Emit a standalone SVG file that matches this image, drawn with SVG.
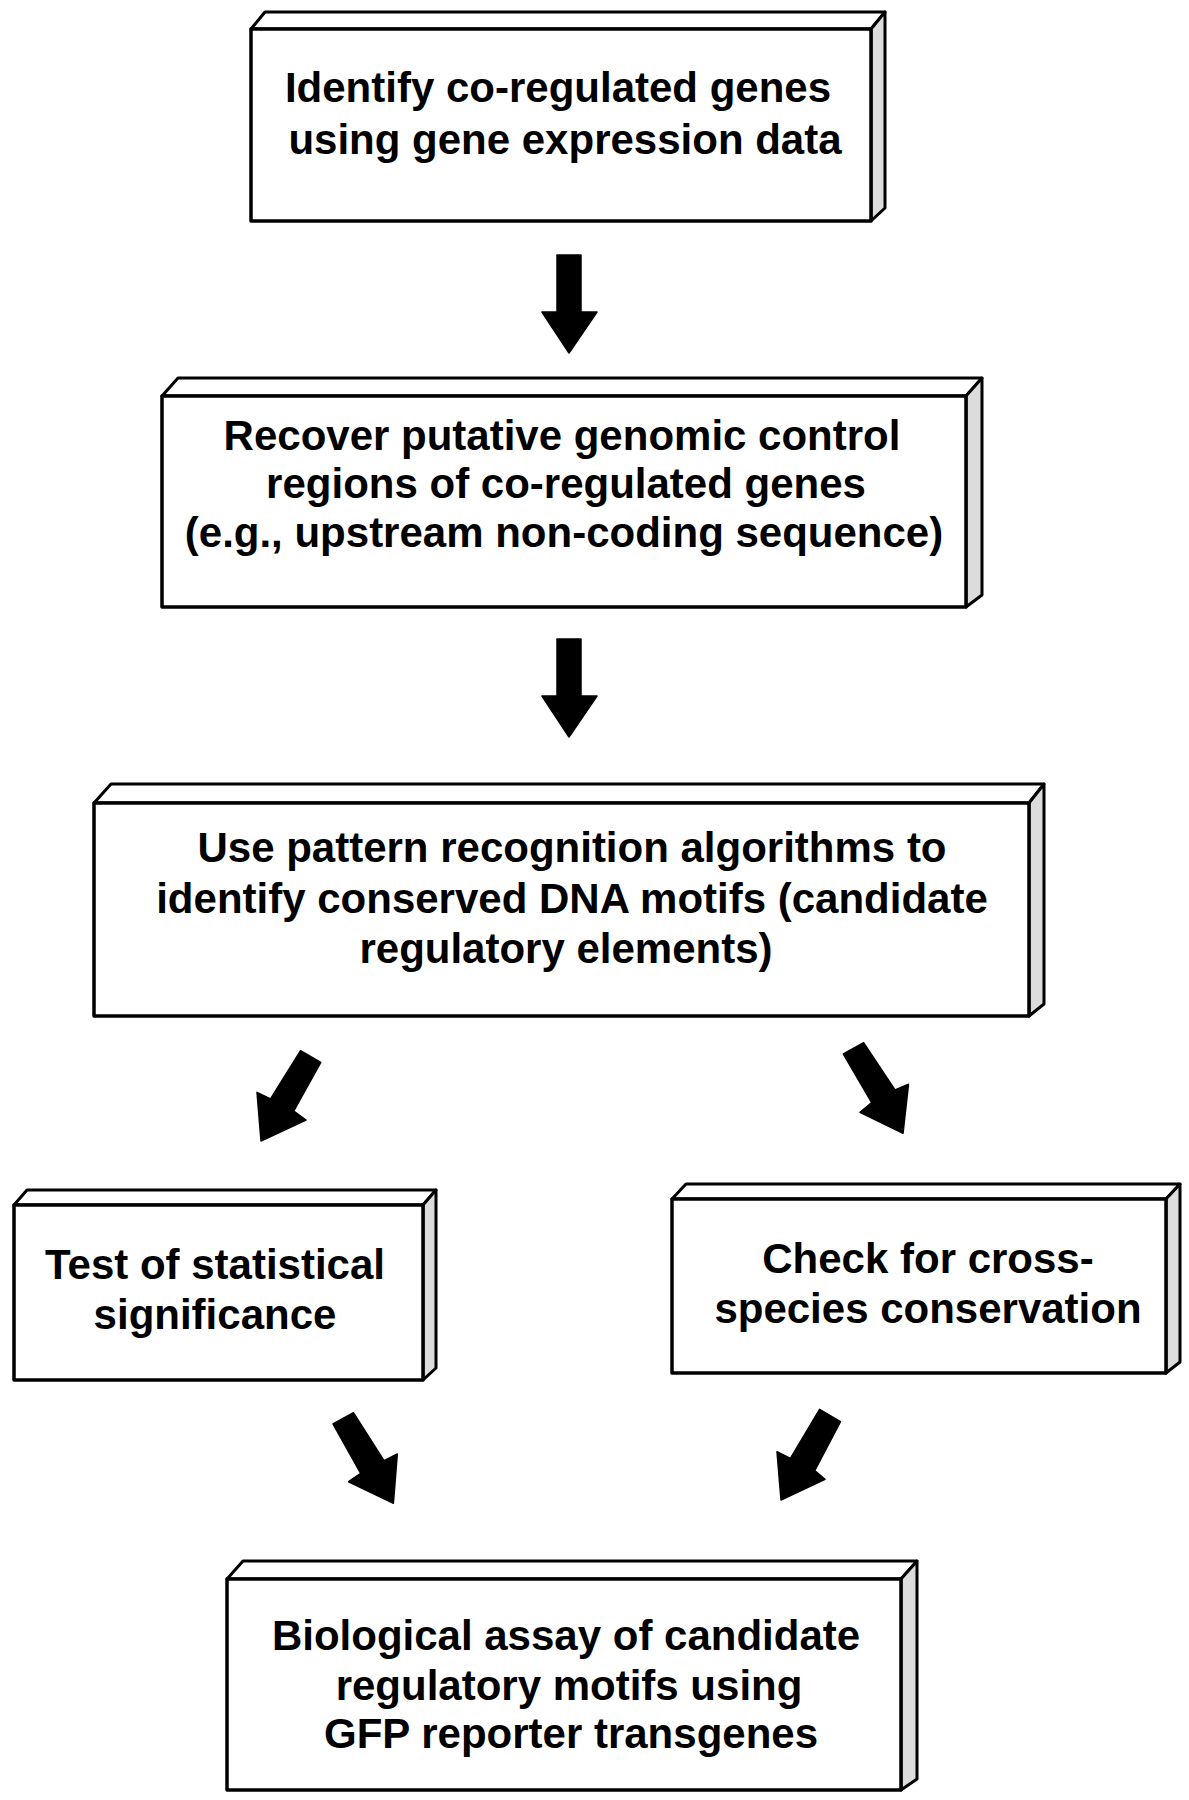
<svg xmlns="http://www.w3.org/2000/svg" width="1189" height="1800" viewBox="0 0 1189 1800">
<style>
.front{fill:#fff;stroke:#000;stroke-width:3.5;stroke-linejoin:round}
.top{fill:#fff;stroke:#000;stroke-width:3;stroke-linejoin:round}
.side{fill:#dcdcdc;stroke:#000;stroke-width:3;stroke-linejoin:round}
.t{font-family:"Liberation Sans",Arial,sans-serif;font-weight:bold;font-size:42px;fill:#000;text-anchor:middle}
.arr{fill:#000;stroke:#000;stroke-width:1.5;stroke-linejoin:round}
</style>
<rect width="1189" height="1800" fill="#fff"/>
<g id="node1">
<polygon class="top" points="251,29 265,12 885,12 871,29"/>
<polygon class="side" points="871,29 885,12 885,208 871,221"/>
<rect class="front" x="251" y="29" width="620" height="192"/>
<text class="t" x="558" y="102">Identify co-regulated genes</text>
<text class="t" x="565" y="154">using gene expression data</text>
</g>
<g id="node2">
<polygon class="top" points="162,396 178,378 982,378 966,396"/>
<polygon class="side" points="966,396 982,378 982,595 966,607"/>
<rect class="front" x="162" y="396" width="804" height="211"/>
<text class="t" x="562" y="450">Recover putative genomic control</text>
<text class="t" x="566" y="498">regions of co-regulated genes</text>
<text class="t" x="564" y="547">(e.g., upstream non-coding sequence)</text>
</g>
<g id="node3">
<polygon class="top" points="94,803 111,784 1044,784 1029,803"/>
<polygon class="side" points="1029,803 1044,784 1044,1004 1029,1016"/>
<rect class="front" x="94" y="803" width="935" height="213"/>
<text class="t" x="572" y="862">Use pattern recognition algorithms to</text>
<text class="t" x="572" y="913">identify conserved DNA motifs (candidate</text>
<text class="t" x="566" y="963">regulatory elements)</text>
</g>
<g id="node4">
<polygon class="top" points="14,1205 27,1190 436,1190 423,1205"/>
<polygon class="side" points="423,1205 436,1190 436,1368 423,1380"/>
<rect class="front" x="14" y="1205" width="409" height="175"/>
<text class="t" x="215" y="1279">Test of statistical</text>
<text class="t" x="215" y="1329">significance</text>
</g>
<g id="node5">
<polygon class="top" points="672,1199 686,1184 1180,1184 1166,1199"/>
<polygon class="side" points="1166,1199 1180,1184 1180,1362 1166,1373"/>
<rect class="front" x="672" y="1199" width="494" height="174"/>
<text class="t" x="928" y="1273">Check for cross-</text>
<text class="t" x="928" y="1323">species conservation</text>
</g>
<g id="node6">
<polygon class="top" points="227,1579 243,1561 917,1561 901,1579"/>
<polygon class="side" points="901,1579 917,1561 917,1779 901,1790"/>
<rect class="front" x="227" y="1579" width="674" height="211"/>
<text class="t" x="566" y="1650">Biological assay of candidate</text>
<text class="t" x="569" y="1700">regulatory motifs using</text>
<text class="t" x="571" y="1748">GFP reporter transgenes</text>
</g>
<g id="connectors">
<polygon class="arr" points="557,255 581,255 581,312 597,312 569,353 542,312 557,312"/>
<polygon class="arr" points="557,639 581,639 581,696 597,696 569,737 542,696 557,696"/>
<polygon class="arr" points="300.6,1050.7 320.8,1062.3 293.8,1111 306,1120 261,1141 257,1092.3 270.5,1099"/>
<polygon class="arr" points="843.4,1054 863.6,1042.7 895,1090 908.5,1084.3 903,1133.3 860,1112.3 871.7,1102.7"/>
<polygon class="arr" points="333,1424 353.4,1412.7 384,1460.7 397.3,1454 393.4,1503.3 348.6,1481.7 360.7,1473.3"/>
<polygon class="arr" points="819.6,1409.3 840.5,1421.7 814.7,1470.7 825,1479.3 781,1500 777,1451.7 790.4,1458.3"/>
</g>
</svg>
